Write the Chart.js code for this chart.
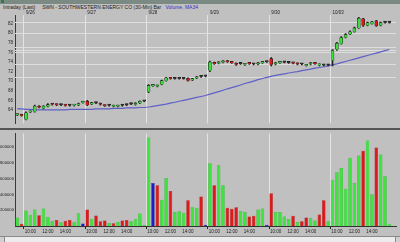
<!DOCTYPE html>
<html>
<head>
<meta charset="utf-8">
<script src="https://cdn.jsdelivr.net/npm/chart.js@4.4.0/dist/chart.umd.min.js"></script>
<style>
html, body { margin: 0; padding: 0; background: #c0c0c0; }
body { width: 400px; height: 242px; position: relative; overflow: hidden; font-family: "Liberation Sans", Arial, sans-serif; }
#title { position: absolute; left: 0; top: 0; width: 400px; height: 4px; background: #7b8b83; }
#title i { position: absolute; left: 1px; top: 0; width: 3px; height: 3px; background: #2f7a45; }
#hdr { position: absolute; left: 3px; top: 4px; height: 7px; font-size: 5px; line-height: 7px; white-space: nowrap; color: #222; }
#hdr .blue { color: #3030c8; }
canvas { position: absolute; left: 0; }
#price { top: 10px; }
#sep { position: absolute; left: 0; top: 128px; width: 400px; height: 2px; background: #555; }
#vol { top: 130px; }
#scroll { position: absolute; left: 0; top: 236px; width: 400px; height: 6px; background: #ececec; border-top: 1px solid #8a8a8a; box-sizing: border-box; }
#scroll b { position: absolute; top: 0; width: 5px; height: 5px; background: #d0d0d0; border-right: 1px solid #888; box-sizing: border-box; }
</style>
</head>
<body>
<div id="title"><i></i></div>
<div id="hdr">Intraday (Last) &nbsp;&nbsp;&nbsp; SWN - SOUTHWESTERN ENERGY CO (30-Min) Bar &nbsp; <span class="blue">Volume, MA34</span></div>
<canvas id="price" width="400" height="118"></canvas>
<div id="sep"></div>
<canvas id="vol" width="400" height="106"></canvas>
<div id="scroll"><b style="left:0"></b><b style="right:0;border-left:1px solid #888;border-right:none"></b></div>

<script>
// dates / sessions
const days = ['9/26', '9/27', '9/28', '9/29', '9/30', '10/03'];
const times = ['9:30', '10:00', '10:30', '11:00', '11:30', '12:00', '12:30',
               '13:00', '13:30', '14:00', '14:30', '15:00', '15:30', '16:00'];
const prevTimes = ['15:30', '16:00'];   // last two bars of 9/25
const timeTicks = ['10:00', '12:00', '14:00'];
const volTicks = [200000, 400000, 600000, 800000, 1000000];

// 30-min bars (price)
const opens = [62.9, 63.0,
  62.0, 63.5, 63.6, 64.8, 64.3, 64.7, 65.2, 65.1, 65.0, 65.1, 64.9, 64.9, 65.0, 65.5,
  65.8, 65.2, 65.4, 65.3, 65.0, 64.9, 64.7, 64.7, 64.9, 65.0, 65.2, 65.1, 65.4, 65.8,
  67.8, 69.0, 68.9, 69.3, 70.1, 70.6, 70.5, 70.5, 70.5, 70.6, 70.2, 70.6, 70.9, 71.0,
  72.2, 73.9, 73.7, 73.9, 74.2, 74.0, 73.7, 73.6, 73.4, 73.8, 73.5, 73.5, 73.8, 74.0,
  74.7, 73.5, 73.8, 73.9, 73.8, 73.9, 73.7, 73.5, 73.2, 73.5, 73.8, 73.3, 73.3, 73.3,
  74.3, 76.6, 77.8, 79.1, 79.8, 80.3, 81.1, 83.0, 81.6, 82.0, 82.6, 81.6, 82.2, 82.2];
const closes = [63.0, 62.8,
  63.4, 63.7, 64.8, 64.5, 64.8, 65.1, 65.1, 65.0, 65.0, 64.9, 64.9, 65.0, 65.3, 65.6,
  65.0, 65.5, 65.4, 65.1, 64.8, 64.9, 64.9, 64.9, 64.9, 65.0, 65.2, 65.4, 65.8, 65.8,
  69.1, 69.1, 69.1, 70.1, 70.7, 70.5, 70.5, 70.5, 70.5, 70.1, 70.5, 70.9, 70.9, 71.0,
  74.0, 73.6, 74.0, 74.2, 74.0, 73.8, 73.4, 73.6, 73.6, 73.6, 73.5, 73.8, 73.9, 74.0,
  73.4, 73.8, 74.0, 73.9, 73.8, 73.7, 73.5, 73.5, 73.4, 73.8, 73.6, 73.5, 73.3, 73.3,
  76.4, 77.9, 79.1, 79.7, 80.3, 81.1, 83.1, 81.6, 82.2, 82.4, 81.5, 82.2, 82.2, 82.2];
const highs = [63.1, 63.0,
  63.6, 63.8, 65.0, 64.9, 64.9, 65.3, 65.3, 65.2, 65.1, 65.1, 65.0, 65.1, 65.4, 65.7,
  66.0, 65.6, 65.5, 65.4, 65.0, 65.0, 65.0, 65.0, 65.0, 65.1, 65.3, 65.5, 65.9, 65.9,
  69.3, 69.3, 69.2, 70.2, 70.8, 70.7, 70.6, 70.6, 70.6, 70.7, 70.6, 71.0, 71.0, 71.1,
  74.2, 74.0, 74.1, 74.3, 74.3, 74.1, 73.8, 73.7, 73.7, 73.9, 73.6, 73.9, 74.0, 74.1,
  74.9, 73.9, 74.1, 74.0, 73.9, 74.0, 73.8, 73.6, 73.5, 73.9, 73.9, 73.6, 73.4, 73.4,
  76.6, 78.1, 79.3, 79.9, 80.5, 81.3, 83.3, 83.1, 82.3, 82.5, 82.7, 82.3, 82.3, 82.3];
const lows = [62.8, 62.7,
  61.9, 63.4, 63.5, 64.4, 64.2, 64.6, 65.0, 64.9, 64.9, 64.8, 64.8, 64.8, 64.9, 65.4,
  64.9, 65.1, 65.3, 65.0, 64.7, 64.8, 64.6, 64.6, 64.8, 64.9, 65.1, 65.0, 65.3, 65.7,
  67.6, 68.9, 68.8, 69.2, 70.0, 70.4, 70.4, 70.4, 70.4, 70.0, 70.1, 70.5, 70.8, 70.9,
  72.0, 73.5, 73.6, 73.8, 73.9, 73.7, 73.3, 73.5, 73.3, 73.5, 73.4, 73.4, 73.7, 73.9,
  73.2, 73.4, 73.7, 73.8, 73.7, 73.6, 73.4, 73.4, 73.1, 73.4, 73.5, 73.2, 73.2, 73.2,
  73.2, 76.4, 77.7, 79.0, 79.7, 80.2, 81.0, 81.4, 81.5, 81.9, 81.4, 81.5, 82.1, 82.1];

// 34-period moving average
const ma34 = [64.2, 64.2,
  64.1, 64.1, 64.0, 64.0, 64.0, 64.0, 64.0, 64.0, 64.0, 64.0, 64.1, 64.1, 64.1, 64.1,
  64.1, 64.1, 64.2, 64.2, 64.2, 64.2, 64.3, 64.3, 64.3, 64.4, 64.4, 64.4, 64.5, 64.5,
  64.6, 64.75, 64.9, 65.05, 65.2, 65.4, 65.6, 65.8, 66.0, 66.2, 66.4, 66.6, 66.8, 67.0,
  67.3, 67.55, 67.8, 68.1, 68.4, 68.65, 68.9, 69.2, 69.5, 69.75, 70.0, 70.3, 70.55, 70.8,
  71.0, 71.2, 71.35, 71.5, 71.7, 71.85, 72.0, 72.2, 72.35, 72.5, 72.7, 72.85, 73.0, 73.2,
  73.4, 73.6, 73.85, 74.1, 74.35, 74.6, 74.85, 75.1, 75.35, 75.6, 75.85, 76.1, 76.35, 76.6];

// drawn price levels
const levels = [82.4, 80.0, 77.1, 76.6, 76.0, 73.5, 70.9];

// volume (shares) and bar colours g/r/b
const volumes = [108000, 27000,
  198000, 141000, 210000, 137000, 223000, 116000, 67000, 76000, 47000, 67000, 76000, 55000, 162000, 31000,
  210000, 92000, 133000, 59000, 71000, 39000, 35000, 51000, 71000, 76000, 59000, 84000, 157000, 14000,
  1122000, 546000, 517000, 333000, 607000, 444000, 178000, 186000, 169000, 325000, 243000, 231000, 374000, 15000,
  795000, 517000, 770000, 517000, 231000, 219000, 239000, 190000, 182000, 121000, 129000, 210000, 223000, 15000,
  415000, 178000, 178000, 121000, 88000, 129000, 51000, 59000, 108000, 100000, 71000, 145000, 325000, 59000,
  587000, 681000, 734000, 472000, 865000, 546000, 893000, 955000, 1085000, 402000, 996000, 905000, 632000, 27000];
const volColors = ('gr' + 'grgggrgggrgrrggb'.slice(2) + 'rgrrrgrgrrgggg' + 'gbrggrgggrggrb' +
                   'grggrrrggrrggb' + 'rggggrgrrggrrg' + 'gggggggrggrggg').split('');

// categories: 2 bars of 9/25, six sessions, one empty slot at the right
const categories = prevTimes.concat(...days.map(() => times), ['']);
const dayStart = new Set(days.map((d, k) => prevTimes.length + k * times.length));
const dayLabel = i => dayStart.has(i) ? days[(i - prevTimes.length) / times.length] : '';
const timeLabel = i => {
  if (i < prevTimes.length || i >= categories.length - 1) return '';
  const t = categories[i];
  return timeTicks.includes(t) ? t : '';
};

const bodies = opens.map((o, i) => [o, closes[i]]);
const wicks = lows.map((l, i) => [l, highs[i]]);
const bodyColors = opens.map((o, i) => closes[i] > o ? '#3be23b' : closes[i] < o ? '#d81c1c' : '#333');
const palette = { g: '#3de43d', r: '#dc1a1a', b: '#1c1cc8' };
const edge = { g: '#22a822', r: '#a01010', b: '#101080' };

const tickFont = { family: 'Liberation Sans', size: 4.5 };

const levelsPlugin = {
  id: 'levels',
  beforeDatasetsDraw(chart) {
    const { ctx, chartArea: a, scales: { y } } = chart;
    ctx.save();
    ctx.strokeStyle = '#dedede';
    ctx.lineWidth = 1;
    levels.forEach(p => {
      const yy = Math.round(y.getPixelForValue(p)) + 0.5;
      ctx.beginPath();
      ctx.moveTo(a.left, yy);
      ctx.lineTo(a.right, yy);
      ctx.stroke();
    });
    ctx.restore();
  }
};

new Chart(document.getElementById('price'), {
  type: 'bar',
  data: {
    labels: categories,
    datasets: [
      { type: 'line', data: ma34, borderColor: '#5f5fc8', borderWidth: 1.2, pointRadius: 0, tension: 0, order: 3 },
      { data: wicks, backgroundColor: '#222', barThickness: 1, grouped: false, order: 2 },
      { data: bodies, backgroundColor: bodyColors, borderColor: '#1c1c1c', borderWidth: 0.6,
        barThickness: 3, minBarLength: 1.5, grouped: false, order: 1 }
    ]
  },
  options: {
    responsive: false, animation: false, devicePixelRatio: 1,
    layout: { padding: { left: 0, right: 4, top: 0, bottom: 1 } },
    plugins: { legend: { display: false }, tooltip: { enabled: false } },
    scales: {
      x: {
        position: 'top', offset: true,
        grid: { offset: true, drawTicks: false, color: c => dayStart.has(c.index) ? '#e4e4e4' : 'transparent' },
        border: { display: false },
        ticks: { autoSkip: false, maxRotation: 0, align: 'start', padding: 0, font: tickFont, color: '#222',
                 callback: (v, i) => dayLabel(i) },
        afterFit: s => { s.height = 5; }
      },
      y: {
        min: 61.2, max: 83.8,
        grid: { color: 'transparent', drawTicks: false },
        border: { color: '#3a3a3a' },
        ticks: { stepSize: 2, padding: 2, font: tickFont, color: '#222',
                 callback: v => Math.abs(v % 2) < 1e-6 ? v : '' },
        afterFit: s => { s.width = 15; }
      }
    }
  },
  plugins: [levelsPlugin]
});

new Chart(document.getElementById('vol'), {
  type: 'bar',
  data: {
    labels: categories,
    datasets: [{
      data: volumes,
      backgroundColor: volColors.map(c => palette[c]),
      borderColor: volColors.map(c => edge[c]),
      borderWidth: 0.5,
      barPercentage: 0.8, categoryPercentage: 1
    }]
  },
  options: {
    responsive: false, animation: false, devicePixelRatio: 1,
    layout: { padding: { left: 0, right: 4, top: 0, bottom: 0 } },
    plugins: { legend: { display: false }, tooltip: { enabled: false } },
    scales: {
      x: {
        offset: true,
        grid: { offset: true, tickLength: 3,
                color: c => dayStart.has(c.index) ? '#e4e4e4' : 'transparent',
                tickColor: c => dayStart.has(c.index) ? '#222' : 'transparent' },
        border: { color: '#333' },
        ticks: { autoSkip: false, maxRotation: 0, padding: 0, font: tickFont, color: '#222',
                 callback: (v, i) => timeLabel(i) },
        afterFit: s => { s.height = 10; }
      },
      y: {
        min: 0, max: 1172000,
        grid: { color: 'transparent', drawTicks: false },
        border: { color: '#3a3a3a' },
        afterBuildTicks: s => { s.ticks = volTicks.map(v => ({ value: v })); },
        ticks: { padding: 1, font: { family: 'Liberation Sans', size: 4.2 }, color: '#222',
                 callback: v => String(v) },
        afterFit: s => { s.width = 15; }
      }
    }
  }
});
</script>
</body>
</html>
